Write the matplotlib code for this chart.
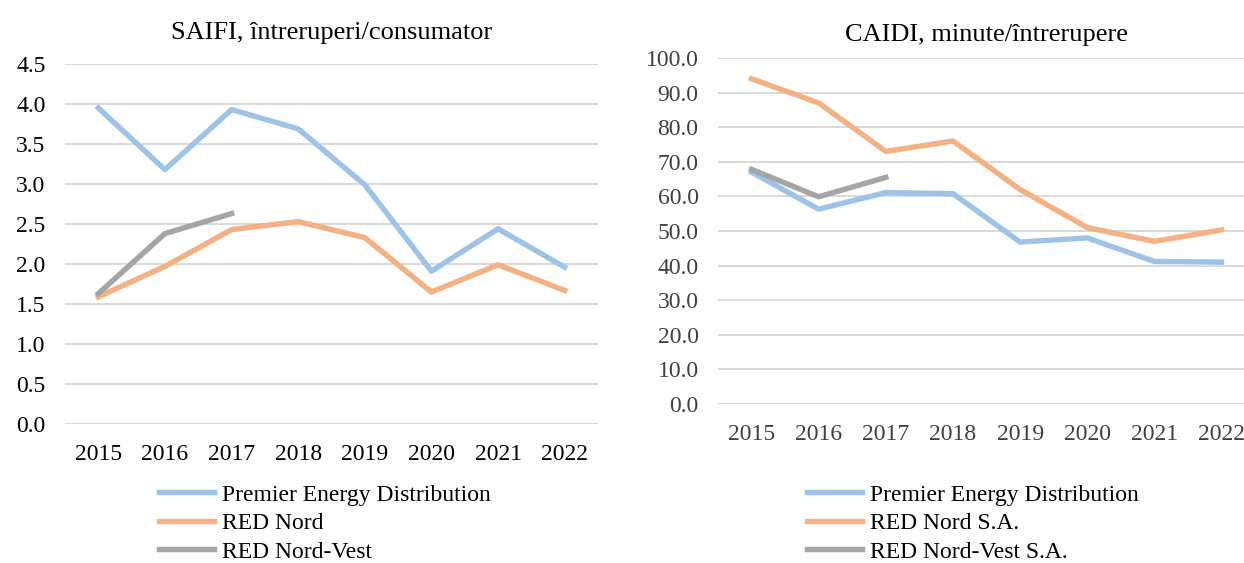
import matplotlib.pyplot as plt

plt.rcParams['font.family'] = ['Liberation Serif', 'DejaVu Serif']

years = ['2015', '2016', '2017', '2018', '2019', '2020', '2021', '2022']

# SAIFI
saifi_premier = [3.95, 3.18, 3.93, 3.69, 2.99, 1.91, 2.44, 1.96]
saifi_rednord = [1.59, 1.97, 2.43, 2.53, 2.33, 1.65, 1.99, 1.67]
saifi_nordvest = [1.63, 2.38, 2.63]

# CAIDI
caidi_premier = [67.0, 56.3, 61.1, 60.8, 46.8, 48.0, 41.2, 41.0]
caidi_rednord = [94.0, 87.0, 73.0, 76.0, 62.0, 51.0, 47.0, 50.3]
caidi_nordvest = [67.8, 59.9, 65.5]

blue = '#9DC3E6'
orange = '#F4B183'
gray = '#A5A5A5'
lw = 3.9

fig = plt.figure(figsize=(12.44, 5.63), dpi=100)

ax1 = fig.add_axes([65 / 1244, 139 / 563, 533 / 1244, 360 / 563])
ax2 = fig.add_axes([718 / 1244, 159 / 563, 537 / 1244, 346 / 563])

x = list(range(len(years)))


def style(ax, ylim, step, fmt, color):
    ax.set_xlim(-0.5, len(years) - 0.5)
    ax.set_ylim(*ylim)
    ticks = [i * step for i in range(int(round(ylim[1] / step)) + 1)]
    ax.set_yticks(ticks)
    ax.set_yticklabels([fmt.format(t) for t in ticks])
    ax.set_xticks(x)
    ax.set_xticklabels(years)
    for s in ax.spines.values():
        s.set_visible(False)
    ax.grid(axis='y', color='#D9D9D9', lw=1.4)
    ax.set_axisbelow(True)
    ax.tick_params(length=0, labelsize=17, colors=color)
    ax.tick_params(axis='y', pad=14)
    ax.tick_params(axis='x', pad=14.5)


leg_kw = dict(loc='upper left', bbox_transform=fig.transFigure, frameon=False,
              fontsize=17, handlelength=2.35, labelspacing=0.3,
              borderaxespad=0, borderpad=0, handletextpad=0.3)

ax1.plot(x, saifi_premier, color=blue, lw=lw, label='Premier Energy Distribution')
ax1.plot(x, saifi_rednord, color=orange, lw=lw, label='RED Nord')
ax1.plot(x[:3], saifi_nordvest, color=gray, lw=lw, label='RED Nord-Vest')
style(ax1, (0, 4.5), 0.5, '{:.1f}', '#000000')
ax1.set_title('SAIFI, întreruperi/consumator', fontsize=19, pad=18)
ax1.legend(bbox_to_anchor=(159 / 1244, 1 - 484 / 563), **leg_kw)

ax2.plot(x, caidi_premier, color=blue, lw=lw, label='Premier Energy Distribution')
ax2.plot(x, caidi_rednord, color=orange, lw=lw, label='RED Nord S.A.')
ax2.plot(x[:3], caidi_nordvest, color=gray, lw=lw, label='RED Nord-Vest S.A.')
style(ax2, (0, 100), 10, '{:.1f}', '#404040')
ax2.set_title('CAIDI, minute/întrerupere', fontsize=19, pad=12)
ax2.legend(bbox_to_anchor=(807 / 1244, 1 - 484 / 563), **leg_kw)

fig.savefig('out.png', dpi=100)
